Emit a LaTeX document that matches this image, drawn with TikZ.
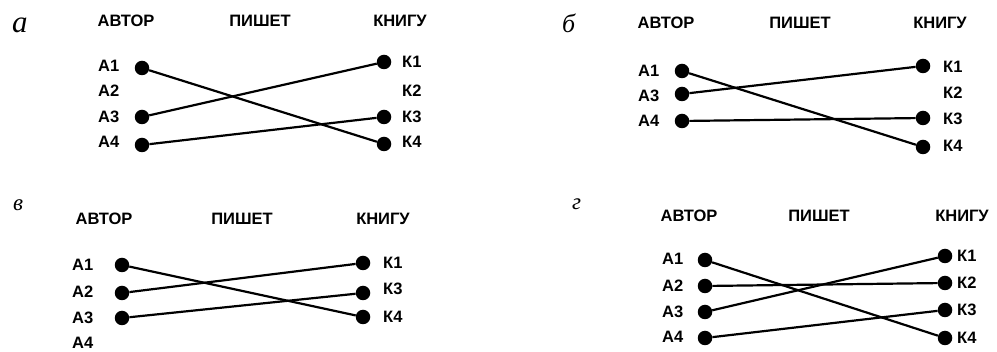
\documentclass[tikz,border=0pt]{standalone}
\usepackage{fontspec}
\setmainfont{Liberation Sans}
\newfontfamily\panelfont{Liberation Serif}
\usetikzlibrary{positioning}
\tikzset{
        textnode/.style={inner sep=0pt, anchor=base west, font=\bfseries\fontsize{16.5}{18}\selectfont},
        % Column headers
        node_head/.style={textnode, anchor=base},
        % Panel letters
        node_panel/.style={inner sep=0pt, anchor=base west, font=\panelfont\itshape\fontsize{#1}{#1}\selectfont},
        node_panel/.default=26,
        % Row dots
        node_dot/.style={circle, fill=black, inner sep=0pt, minimum size=14.5pt},
        % Links between dots
        link/.style={line width=2.2pt}
}

\begin{document}
\begin{tikzpicture}[x=1pt, y=-1pt]
            \useasboundingbox (0,0) rectangle (997,352);
            % panel a
            \node[node_panel=31] (pa) at (12,33) {а};
            \node[node_head] (ha1) at (126,27) {АВТОР};
            \node[node_head] (ha2) at (260,27) {ПИШЕТ};
            \node[node_head] (ha3) at (400,27) {КНИГУ};
            \node[textnode] (ta1) at (98,72) {А1};
            \node[textnode] (ta2) at (98,97) {А2};
            \node[textnode] (ta3) at (98,123) {А3};
            \node[textnode] (ta4) at (98,148) {А4};
            \node[textnode] (tk1) at (402,68) {К1};
            \node[textnode] (tk2) at (402,97) {К2};
            \node[textnode] (tk3) at (402,123) {К3};
            \node[textnode] (tk4) at (402,148) {К4};
            \node[node_dot] (da1) at (142,68) {};
            \node[node_dot] (da3) at (142,117) {};
            \node[node_dot] (da4) at (142,145) {};
            \node[node_dot] (dk1) at (384,62) {};
            \node[node_dot] (dk3) at (384,117) {};
            \node[node_dot] (dk4) at (384,144) {};
            \draw[link] (da1) -- (dk4);
            \draw[link] (da3) -- (dk1);
            \draw[link] (da4) -- (dk3);

            % panel b
            \node[node_panel=26] (pb) at (562,33) {б};
            \node[node_head] (hb1) at (666,29) {АВТОР};
            \node[node_head] (hb2) at (800,29) {ПИШЕТ};
            \node[node_head] (hb3) at (940,29) {КНИГУ};
            \node[textnode] (tb1) at (638,77) {А1};
            \node[textnode] (tb3) at (638,102) {А3};
            \node[textnode] (tb4) at (638,127) {А4};
            \node[textnode] (tl1) at (943,73) {К1};
            \node[textnode] (tl2) at (943,99) {К2};
            \node[textnode] (tl3) at (943,125) {К3};
            \node[textnode] (tl4) at (943,152) {К4};
            \node[node_dot] (db1) at (682,71) {};
            \node[node_dot] (db3) at (682,94) {};
            \node[node_dot] (db4) at (682,121) {};
            \node[node_dot] (dl1) at (923,66) {};
            \node[node_dot] (dl3) at (923,118) {};
            \node[node_dot] (dl4) at (923,147) {};
            \draw[link] (db1) -- (dl4);
            \draw[link] (db3) -- (dl1);
            \draw[link] (db4) -- (dl3);

            % panel c
            \node[node_panel=23] (pc) at (13,211) {в};
            \node[node_head] (hc1) at (104,225) {АВТОР};
            \node[node_head] (hc2) at (242,225) {ПИШЕТ};
            \node[node_head] (hc3) at (383,225) {КНИГУ};
            \node[textnode] (tc1) at (72,271) {А1};
            \node[textnode] (tc2) at (72,298) {А2};
            \node[textnode] (tc3) at (72,324) {А3};
            \node[textnode] (tc4) at (72,349) {А4};
            \node[textnode] (tm1) at (383,269) {К1};
            \node[textnode] (tm3) at (383,295) {К3};
            \node[textnode] (tm4) at (383,323) {К4};
            \node[node_dot] (dc1) at (122,265) {};
            \node[node_dot] (dc2) at (122,293) {};
            \node[node_dot] (dc3) at (122,318) {};
            \node[node_dot] (dm1) at (363,263) {};
            \node[node_dot] (dm3) at (363,293) {};
            \node[node_dot] (dm4) at (363,317) {};
            \draw[link] (dc1) -- (dm4);
            \draw[link] (dc2) -- (dm1);
            \draw[link] (dc3) -- (dm3);

            % panel d
            \node[node_panel=23] (pd) at (572,210) {г};
            \node[node_head] (hd1) at (689,222) {АВТОР};
            \node[node_head] (hd2) at (819,222) {ПИШЕТ};
            \node[node_head] (hd3) at (962,222) {КНИГУ};
            \node[textnode] (td1) at (662,265) {А1};
            \node[textnode] (td2) at (662,292) {А2};
            \node[textnode] (td3) at (662,318) {А3};
            \node[textnode] (td4) at (662,343) {А4};
            \node[textnode] (tn1) at (957,262) {К1};
            \node[textnode] (tn2) at (957,289) {К2};
            \node[textnode] (tn3) at (957,316) {К3};
            \node[textnode] (tn4) at (957,344) {К4};
            \node[node_dot] (dd1) at (705,260) {};
            \node[node_dot] (dd2) at (705,286) {};
            \node[node_dot] (dd3) at (705,312) {};
            \node[node_dot] (dd4) at (705,338) {};
            \node[node_dot] (dn1) at (945,256) {};
            \node[node_dot] (dn2) at (945,283) {};
            \node[node_dot] (dn3) at (945,310) {};
            \node[node_dot] (dn4) at (945,338) {};
            \draw[link] (dd1) -- (dn4);
            \draw[link] (dd2) -- (dn2);
            \draw[link] (dd3) -- (dn1);
            \draw[link] (dd4) -- (dn3);
\end{tikzpicture}
\end{document}
